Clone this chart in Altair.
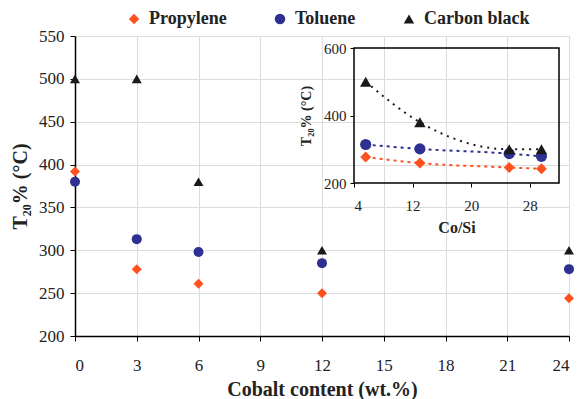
import altair as alt
import pandas as pd

# ---- data ----
series = ["Propylene", "Toluene", "Carbon black"]
colors = ["#FF5020", "#2E3192", "#1A1A1A"]
shapes = ["diamond", "circle", "triangle-up"]
main_sizes = [100, 100, 165]
inset_sizes = [120, 130, 175]

cobalt = [0, 3, 6, 12, 24]
propylene = [392, 278, 261, 250, 244]
toluene = [380, 313, 298, 285, 278]
carbon_black = [500, 500, 380, 300, 300]

co_si = [5.6, 13.0, 25.2, 29.6]
propylene_inset = [277, 259, 246, 242]
toluene_inset = [314, 301, 287, 279]
carbon_black_inset = [500, 380, 300, 300]

main_x_ticks = [0, 3, 6, 9, 12, 15, 18, 21, 24]
main_y_ticks = [200, 250, 300, 350, 400, 450, 500, 550]
inset_x_ticks = [4, 12, 20, 28]
inset_y_ticks = [200, 400, 600]
inset_x_domain = [4, 32]
inset_y_domain = [200, 600]

FONT = "Liberation Serif"

main_rows = []
for name, vals in zip(series, [propylene, toluene, carbon_black]):
    for c, v in zip(cobalt, vals):
        main_rows.append({"series": name, "cobalt": c, "T": v})
main_df = pd.DataFrame(main_rows)

inset_rows = []
for name, vals in zip(series, [propylene_inset, toluene_inset, carbon_black_inset]):
    for c, v in zip(co_si, vals):
        inset_rows.append({"series": name, "co_si": c, "T": v})
inset_df = pd.DataFrame(inset_rows)

box_df = pd.DataFrame([{"x0": inset_x_domain[0], "x1": inset_x_domain[1],
                        "y0": inset_y_domain[0], "y1": inset_y_domain[1]}])

color_scale = alt.Scale(domain=series, range=colors)
shape_scale = alt.Scale(domain=series, range=shapes)

legend = alt.Legend(
    orient="none", legendX=50, legendY=-26, direction="horizontal", columns=3,
    title=None, labelFont=FONT, labelFontSize=18, labelFontWeight="bold",
    labelColor="#222222", symbolSize=110, symbolStrokeWidth=0,
    columnPadding=44, labelOffset=6, padding=0,
)

# ---- main chart ----
main_x = alt.X(
    "cobalt:Q",
    scale=alt.Scale(domain=[0, 24], nice=False),
    axis=alt.Axis(values=main_x_ticks, title="Cobalt content (wt.%)", grid=True,
                  gridColor="#DCDCDC", domainColor="black", domainWidth=1.5,
                  tickColor="black", tickSize=5, labelPadding=16,
                  labelFont=FONT, labelFontSize=17, labelColor="#222222",
                  titleFont=FONT, titleFontSize=20, titleFontWeight="bold",
                  titleColor="#222222", titlePadding=6),
)
main_y = alt.Y(
    "T:Q",
    scale=alt.Scale(domain=[200, 550], nice=False, zero=False),
    axis=alt.Axis(values=main_y_ticks, title="T₂₀% (°C)", grid=True,
                  gridColor="#DCDCDC", domainColor="black", domainWidth=1.5,
                  tickColor="black", tickSize=5, labelPadding=6,
                  labelFont=FONT, labelFontSize=17, labelColor="#222222",
                  titleFont=FONT, titleFontSize=20, titleFontWeight="bold",
                  titleColor="#222222", titlePadding=8),
)

main_pts = alt.Chart(main_df).mark_point(filled=True, opacity=1).encode(
    x=main_x,
    y=main_y,
    color=alt.Color("series:N", scale=color_scale, legend=legend),
    shape=alt.Shape("series:N", scale=shape_scale, legend=legend),
    size=alt.Size("series:N", scale=alt.Scale(domain=series, range=main_sizes), legend=None),
)

# ---- inset ----
inset_x_axis = alt.Axis(orient="bottom", offset=-153, values=inset_x_ticks, title="Co/Si",
                        grid=False, domain=False, tickColor="black", tickSize=4,
                        labelPadding=11, labelFont=FONT, labelFontSize=15,
                        labelColor="#222222", titleFont=FONT, titleFontSize=16,
                        titleFontWeight="bold", titleColor="#222222", titlePadding=6)
inset_y_axis = alt.Axis(orient="left", offset=-279, values=inset_y_ticks, title="T₂₀% (°C)",
                        grid=False, domain=False, tickColor="black", tickSize=4,
                        labelPadding=4, labelFont=FONT, labelFontSize=15,
                        labelColor="#222222", titleFont=FONT, titleFontSize=14,
                        titleFontWeight="bold", titleColor="#222222", titlePadding=10)
inset_x_scale = alt.Scale(domain=inset_x_domain, range=[279, 484], nice=False)
inset_y_scale = alt.Scale(domain=inset_y_domain, range=[147, 12], nice=False, zero=False)

box = alt.Chart(box_df).mark_rect(fillOpacity=0, stroke="black", strokeWidth=1.5).encode(
    x=alt.X("x0:Q", scale=inset_x_scale, axis=inset_x_axis),
    x2="x1:Q",
    y=alt.Y("y0:Q", scale=inset_y_scale, axis=inset_y_axis),
    y2="y1:Q",
)

dash_styles = {"Propylene": [3, 4], "Toluene": [3, 4], "Carbon black": [2, 5]}
lines = []
for name, col in zip(series, colors):
    lines.append(
        alt.Chart(inset_df).transform_filter(alt.datum.series == name)
        .mark_line(color=col, strokeWidth=2, strokeDash=dash_styles[name], interpolate="monotone")
        .encode(
            x=alt.X("co_si:Q", scale=inset_x_scale, axis=inset_x_axis),
            y=alt.Y("T:Q", scale=inset_y_scale, axis=inset_y_axis),
        )
    )

inset_pts = alt.Chart(inset_df).mark_point(filled=True, opacity=1).encode(
    x=alt.X("co_si:Q", scale=inset_x_scale, axis=inset_x_axis),
    y=alt.Y("T:Q", scale=inset_y_scale, axis=inset_y_axis),
    color=alt.Color("series:N", scale=color_scale, legend=legend),
    shape=alt.Shape("series:N", scale=shape_scale, legend=legend),
    size=alt.Size("series:N", scale=alt.Scale(domain=series, range=inset_sizes), legend=None),
)

inset = alt.layer(box, *lines, inset_pts).resolve_scale(size="independent")

chart = alt.layer(main_pts, inset).resolve_scale(
    x="independent", y="independent", size="independent"
).properties(
    width=494, height=300,
    autosize=alt.AutoSizeParams(type="none"),
    padding={"left": 75, "top": 36, "right": 12, "bottom": 63},
).configure_view(stroke=None).configure(
    background="white", font=FONT
).configure_axis(labelFont=FONT, titleFont=FONT).configure_legend(labelFont=FONT)

chart.save("out.html", embed_options={"renderer": "svg", "actions": False})
